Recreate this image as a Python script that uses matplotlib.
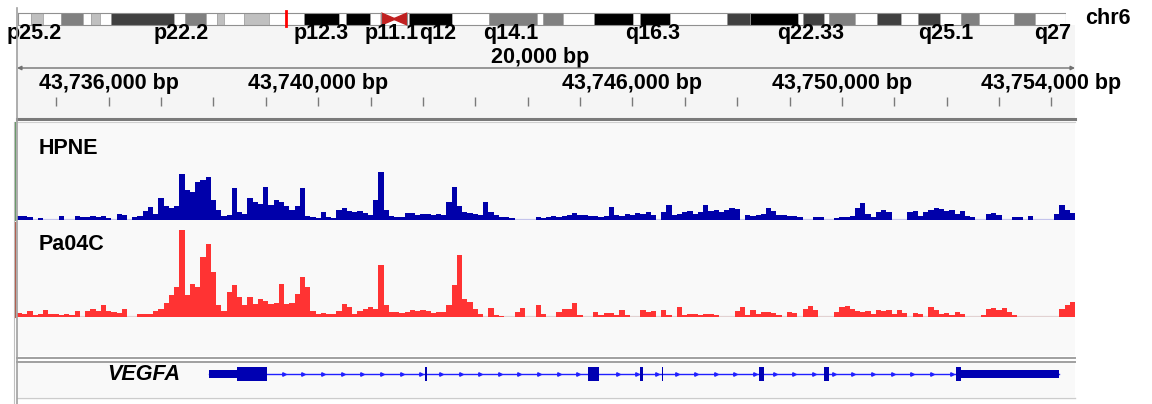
import numpy as np
import matplotlib
matplotlib.use('Agg')
import matplotlib.pyplot as plt
from matplotlib.lines import Line2D
from matplotlib.patches import Polygon
from matplotlib.ticker import MultipleLocator

plt.rcParams['font.family'] = ['Liberation Sans', 'DejaVu Sans']

# --- data ---
# chr6 cytobands (Mb)
band_start = [0, 2.2, 4.0, 7.0, 10.6, 11.9, 13.4, 15.2, 25.5, 27.2, 30.6, 32.4, 33.6, 36.9,
              40.9, 46.6, 52.4, 53.5, 57.4, 63.5, 63.8, 70.8, 76.9, 84.7, 85.6, 88.9, 94.0,
              100.3, 101.5, 106.4, 115.7, 119.4, 127.3, 128.1, 131.5, 132.3, 136.6, 140.2,
              144.1, 146.9, 150.4, 153.9, 156.8, 162.5, 165.9]
band_end = band_start[1:18] + [59.3, 63.8] + band_start[20:] + [171.0]
band_stain = ['gneg', 'gpos25', 'gneg', 'gpos50', 'gneg', 'gpos25', 'gneg', 'gpos75', 'gneg',
              'gpos50', 'gneg', 'gpos25', 'gneg', 'gpos25', 'gneg', 'gpos100', 'gneg', 'gpos100',
              'gneg', 'gneg', 'gpos100', 'gneg', 'gpos50', 'gneg', 'gpos50', 'gneg', 'gpos100',
              'gneg', 'gpos100', 'gneg', 'gpos75', 'gpos100', 'gneg', 'gpos75', 'gneg', 'gpos50',
              'gneg', 'gpos75', 'gneg', 'gpos75', 'gneg', 'gpos50', 'gneg', 'gpos50', 'gneg']
centromere = (59.3, 61.4, 63.5)
chrom_len = 171.0
band_labels = ['p25.2', 'p22.2', 'p12.3', 'p11.1', 'q12', 'q14.1', 'q16.3', 'q22.33', 'q25.1', 'q27']
band_label_pos = [2.6, 26.6, 49.4, 61.0, 68.5, 80.4, 103.6, 129.4, 151.4, 168.9]

# view window and ruler
view_start, view_end = 43734250, 43754450
ruler_labels = [43736000, 43740000, 43746000, 43750000, 43754000]

# coverage, 100 bp bins from view_start
bin_size = 100
hpne = [4, 4, 3, 0, 2, 0, 0, 0, 4, 0, 0, 4, 3, 3, 4, 3, 4, 2, 0, 6,
        5, 0, 3, 4, 9, 13, 6, 22, 14, 12, 14, 46, 30, 28, 38, 40, 43, 20, 10, 4,
        5, 32, 8, 6, 22, 18, 16, 33, 15, 20, 18, 14, 10, 14, 32, 4, 3, 2, 8, 3,
        2, 10, 12, 9, 8, 9, 7, 5, 20, 48, 10, 4, 3, 3, 7, 7, 5, 6, 6, 5,
        6, 5, 18, 33, 14, 8, 7, 6, 5, 18, 8, 5, 3, 3, 2, 0, 0, 0, 0, 3,
        2, 3, 4, 3, 4, 5, 7, 5, 5, 4, 4, 3, 4, 13, 5, 4, 6, 5, 7, 6,
        8, 5, 0, 8, 15, 5, 6, 8, 9, 6, 8, 15, 9, 10, 8, 10, 12, 11, 0, 5,
        4, 5, 6, 12, 9, 5, 5, 4, 4, 3, 0, 0, 3, 3, 0, 0, 2, 3, 3, 4,
        12, 17, 6, 3, 8, 10, 8, 0, 0, 0, 8, 9, 4, 8, 10, 12, 11, 9, 10, 6,
        9, 4, 3, 0, 0, 6, 7, 5, 0, 0, 3, 3, 0, 4, 0, 0, 0, 0, 6, 15,
        10, 7]
pa04c = [4, 3, 6, 2, 3, 7, 3, 3, 2, 3, 2, 6, 0, 6, 8, 6, 12, 6, 5, 4,
         8, 0, 0, 3, 3, 3, 6, 8, 14, 22, 30, 87, 22, 33, 30, 60, 73, 45, 12, 6,
         25, 32, 20, 12, 20, 13, 18, 16, 13, 14, 33, 13, 14, 23, 40, 30, 6, 3, 4, 3,
         3, 6, 13, 10, 3, 6, 8, 10, 8, 52, 12, 5, 5, 4, 5, 7, 6, 7, 6, 4,
         5, 5, 12, 32, 62, 18, 15, 8, 3, 0, 9, 2, 1, 0, 0, 5, 9, 0, 0, 12,
         3, 0, 0, 5, 8, 8, 14, 2, 0, 0, 5, 2, 4, 4, 2, 7, 2, 0, 0, 7,
         5, 6, 0, 7, 2, 0, 10, 2, 3, 3, 2, 3, 3, 2, 0, 0, 0, 6, 10, 2,
         7, 3, 5, 5, 4, 2, 0, 5, 4, 0, 8, 11, 7, 0, 0, 0, 5, 10, 11, 8,
         6, 5, 6, 3, 7, 6, 7, 3, 7, 4, 0, 4, 3, 0, 10, 7, 3, 4, 2, 5,
         3, 0, 0, 0, 2, 8, 9, 7, 9, 5, 2, 0, 0, 0, 0, 0, 0, 0, 0, 8,
         12, 15]

# VEGFA gene model (bp)
gene_name = 'VEGFA'
gene_start, gene_end = 43737918, 43754139
utr_blocks = [(43737918, 43738452), (43752280, 43754139)]
cds_blocks = [(43738452, 43739025), (43742040, 43742080), (43745151, 43745361),
              (43746140, 43746200), (43746570, 43746590), (43748414, 43748510),
              (43749655, 43749750), (43752180, 43752280)]

# --- colours ---
stain_color = {'gneg': 'white', 'gpos25': '#c0c0c0', 'gpos50': '#808080',
               'gpos75': '#404040', 'gpos100': '#000000'}
hpne_color = '#0000aa'
pa04c_color = '#ff3333'
gene_color = '#0000b2'

W, H = 1152, 404
fig = plt.figure(figsize=(W / 100, H / 100), dpi=100)
fig.patch.set_facecolor('white')


def rect(x0, y0, x1, y1):
    # pixel box (top-left origin) -> figure fraction
    return [x0 / W, 1 - y1 / H, (x1 - x0) / W, (y1 - y0) / H]


def fline(x0, y0, x1, y1, color, lw):
    fig.add_artist(Line2D([x0 / W, x1 / W], [1 - y0 / H, 1 - y1 / H], color=color, lw=lw))


def blank(ax, color):
    ax.set_facecolor(color)
    ax.set_xticks([]); ax.set_yticks([])
    for s in ax.spines.values():
        s.set_visible(False)


X0, X1 = 17, 1075
FS = 15.5

# backgrounds
blank(fig.add_axes(rect(X0, 25, X1, 118)), '#f5f5f5')
blank(fig.add_axes(rect(X0, 122, X1, 356)), '#f9f9f9')
blank(fig.add_axes(rect(X0, 362, X1, 397)), '#f9f9f9')

# --- ideogram ---
ax_id = fig.add_axes(rect(18, 0, 1066, 44))
ax_id.set_xlim(0, chrom_len)
ax_id.set_ylim(44, 0)
ax_id.axis('off')
for s0, s1, st in zip(band_start, band_end, band_stain):
    ax_id.bar(s0, 12, width=s1 - s0, bottom=13, align='edge',
              color=stain_color[st], edgecolor='#a0a0a0', linewidth=0.5)
c0, cm, c1 = centromere
ax_id.add_patch(Polygon([(c0, 13), (cm, 18.5), (cm, 19.5), (c0, 25)], color='#c02020'))
ax_id.add_patch(Polygon([(c1, 13), (cm, 18.5), (cm, 19.5), (c1, 25)], color='#c02020'))
ax_id.plot([0, c0, c0, 0, 0], [13, 13, 25, 25, 13], color='#909090', lw=0.8)
ax_id.plot([chrom_len, c1, c1, chrom_len, chrom_len], [13, 13, 25, 25, 13], color='#909090', lw=0.8)
view_mid = (view_start + view_end) / 2e6
ax_id.plot([view_mid, view_mid], [11, 26], color='red', lw=2)
for lab, pos in zip(band_labels, band_label_pos):
    ax_id.text(pos, 34, lab, ha='center', va='center', fontsize=FS, fontweight='bold')
fig.text(1108 / W, 1 - 19 / H, 'chr6', ha='center', va='center', fontsize=FS, fontweight='bold')

# --- ruler ---
ax_r = fig.add_axes(rect(X0, 44, X1, 106))
ax_r.set_xlim(view_start, view_end)
ax_r.set_ylim(106, 44)
ax_r.patch.set_alpha(0)
for s in ax_r.spines.values():
    s.set_visible(False)
ax_r.set_yticks([])
ax_r.xaxis.set_major_locator(MultipleLocator(1000))
ax_r.tick_params(axis='x', direction='in', length=6.5, width=1, color='#7a7a7a', labelbottom=False)
span_kb = round((view_end - view_start) / 1000) * 1000
ax_r.text((view_start + view_end) / 2 - 120, 58, f'{span_kb:,} bp', ha='center', va='center',
          fontsize=FS, fontweight='bold')
ax_r.annotate('', xy=(view_start, 68), xytext=(view_end, 68),
              arrowprops=dict(arrowstyle='<|-|>', color='#707070', lw=1, mutation_scale=6,
                              shrinkA=0, shrinkB=0))
for p in ruler_labels:
    ax_r.text(p, 83, f'{p:,} bp', ha='center', va='center', fontsize=FS, fontweight='bold')

# --- coverage tracks ---
edges = view_start + bin_size * np.arange(len(hpne) + 1)


def track(y0, y1, vals, color, base_color, name, name_y):
    ax = fig.add_axes(rect(X0, y0, X1, y1))
    ax.set_xlim(view_start, view_end)
    ax.set_ylim(0, y1 - y0)
    ax.patch.set_alpha(0)
    ax.axis('off')
    ax.axhline(0.3, color=base_color, lw=1.6, zorder=1)
    ax.fill_between(edges, list(vals) + [vals[-1]], step='post', color=color, lw=0, zorder=2)
    fig.text(39 / W, 1 - name_y / H, name, ha='left', va='center', fontsize=FS, fontweight='bold')
    return ax


track(122, 220, hpne, hpne_color, '#c4c4ec', 'HPNE', 148)
track(222, 317, pa04c, pa04c_color, '#e2d2d2', 'Pa04C', 244)

# --- gene track ---
ax_g = fig.add_axes(rect(X0, 356, X1, 392))
ax_g.set_xlim(view_start, view_end)
ax_g.set_ylim(-18, 18)
ax_g.patch.set_alpha(0)
ax_g.axis('off')
ax_g.plot([gene_start, gene_end], [0, 0], color='#2020ff', lw=1, zorder=1)
arrow_x = np.arange(gene_start + 300, gene_end, 375)
inside = [any(a <= x <= b for a, b in utr_blocks + cds_blocks) for x in arrow_x]
arrow_x = arrow_x[~np.array(inside)]
ax_g.plot(arrow_x, np.zeros_like(arrow_x), ls='none', marker='>', ms=2.5, color='#2020ff', zorder=2)
for a, b in utr_blocks:
    ax_g.bar(a, 8, width=b - a, bottom=-4, align='edge', color=gene_color, lw=0, zorder=3)
for a, b in cds_blocks:
    ax_g.bar(a, 14, width=b - a, bottom=-7, align='edge', color=gene_color, lw=0, zorder=3)
fig.text(180 / W, 1 - 374 / H, gene_name, ha='right', va='center', fontsize=FS,
         fontweight='bold', style='italic')

# --- frame lines ---
fline(X0, 119, X1, 119, '#7a7a7a', 2.2)
fline(X0, 122, X1, 122, '#d0d0d0', 0.8)
fline(X0, 357.5, X1, 357.5, '#a0a0a0', 1.4)
fline(X0, 362, X1, 362, '#a0a0a0', 1.4)
fline(X0, 397.5, X1, 397.5, '#cccccc', 1.0)
fline(17, 8, 17, 404, '#a0a0a0', 1.2)
fline(13.5, 122, 13.5, 404, '#c0c0c0', 0.8)
fline(14.5, 122, 14.5, 220, '#6a9a6a', 0.8)
fline(14.5, 222, 14.5, 317, '#b06050', 0.8)

fig.savefig('out.png', dpi=100, facecolor='white')
